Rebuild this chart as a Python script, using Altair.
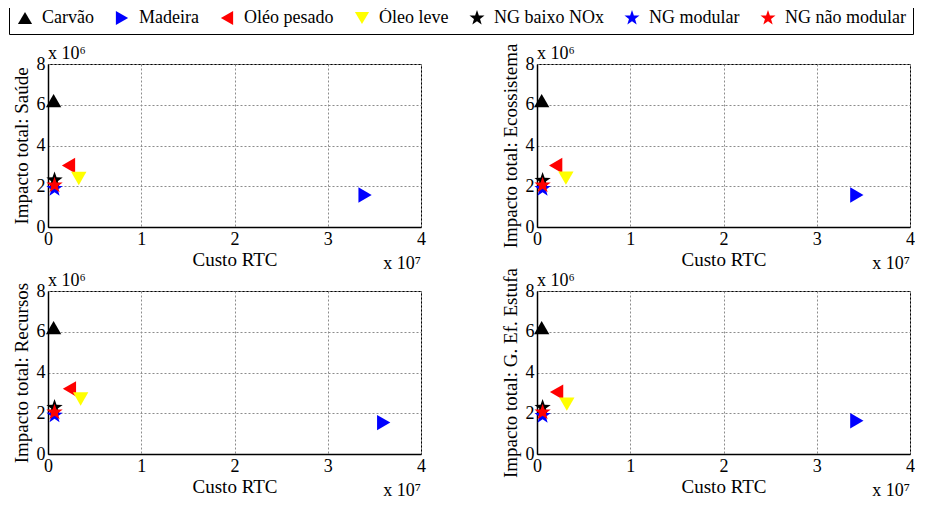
import math
import altair as alt
import pandas as pd

# ---------------- data (x in units of 1e7, y in units of 1e6) ----------------
series = ["Carvão", "Madeira", "Oléo pesado", "Óleo leve",
          "NG baixo NOx", "NG modular", "NG não modular"]
colors = ["#000000", "#0000ff", "#ff0000", "#ffff00",
          "#000000", "#0000ff", "#ff0000"]

saude_x = [0.06, 3.40, 0.22, 0.33, 0.07, 0.07, 0.07]
saude_y = [6.20, 1.57, 3.02, 2.38, 2.30, 1.88, 2.05]
eco_x = [0.05, 3.43, 0.20, 0.31, 0.06, 0.06, 0.06]
eco_y = [6.20, 1.57, 3.02, 2.40, 2.28, 1.88, 2.05]
rec_x = [0.06, 3.60, 0.23, 0.35, 0.07, 0.07, 0.07]
rec_y = [6.20, 1.54, 3.20, 2.70, 2.28, 1.90, 2.05]
gee_x = [0.05, 3.43, 0.21, 0.32, 0.06, 0.06, 0.06]
gee_y = [6.20, 1.63, 3.04, 2.45, 2.28, 1.88, 2.05]

panel_titles = ["Impacto total: Saúde", "Impacto total: Ecossistema",
                "Impacto total: Recursos", "Impacto total: G. Ef. Estufa"]
x_ticks = [0, 1, 2, 3, 4]
y_ticks = [0, 2, 4, 6, 8]
x_label = "Custo RTC"
x_exp = "x 10⁷"
y_exp = "x 10⁶"

# ---------------- styling ----------------
FONT = "Liberation Serif"
W, H = 373, 163

pts = []
for k in range(10):
    r = 1.12 if k % 2 == 0 else 0.45
    a = math.radians(-90 + 36 * k)
    pts.append(f"{r * math.cos(a):.3f},{r * math.sin(a):.3f}")
star = "M" + "L".join(pts) + "Z"
shapes = ["triangle-up", "triangle-right", "triangle-left", "triangle-down",
          star, star, star]

legend = alt.Legend(
    title=None, orient="none", legendX=-39, legendY=-62,
    direction="horizontal", columns=7,
    strokeColor="black", fillColor="white", padding=7,
    labelFont=FONT, labelFontSize=18, labelColor="black",
    symbolSize=200, symbolStrokeWidth=0, labelOffset=8, columnPadding=19,
)


def panel(xs, ys, ytitle):
    df = pd.DataFrame({"serie": series, "custo": xs, "impacto": ys,
                       "ordem": list(range(len(series)))})
    points = alt.Chart(df).mark_point(
        filled=True, opacity=1, size=235, strokeWidth=0
    ).encode(
        x=alt.X("custo:Q", scale=alt.Scale(domain=[0, 4], nice=False),
                axis=alt.Axis(values=x_ticks, title=x_label)),
        y=alt.Y("impacto:Q", scale=alt.Scale(domain=[0, 8], nice=False),
                axis=alt.Axis(values=y_ticks, title=ytitle)),
        color=alt.Color("serie:N", sort=series,
                        scale=alt.Scale(domain=series, range=colors), legend=legend),
        shape=alt.Shape("serie:N", sort=series,
                        scale=alt.Scale(domain=series, range=shapes), legend=legend),
        order=alt.Order("ordem:Q"),
    )
    xexp = alt.Chart(pd.DataFrame({"t": [x_exp]})).mark_text(
        align="right", baseline="alphabetic", font=FONT, fontSize=18, color="black"
    ).encode(text="t:N", x=alt.value(W), y=alt.value(H + 42))
    yexp = alt.Chart(pd.DataFrame({"t": [y_exp]})).mark_text(
        align="left", baseline="alphabetic", font=FONT, fontSize=18, color="black"
    ).encode(text="t:N", x=alt.value(0), y=alt.value(-5))
    return alt.layer(points, xexp, yexp).properties(width=W, height=H)


charts = [panel(saude_x, saude_y, panel_titles[0]),
          panel(eco_x, eco_y, panel_titles[1]),
          panel(rec_x, rec_y, panel_titles[2]),
          panel(gee_x, gee_y, panel_titles[3])]

chart = alt.concat(
    *charts, columns=2, spacing={"row": 64, "column": 116}, bounds="flush"
).resolve_scale(color="shared", shape="shared").properties(
    padding={"left": 0, "top": -7, "right": 0, "bottom": 0}
).configure_axis(
    labelFont=FONT, labelFontSize=18, labelColor="black",
    titleFont=FONT, titleFontSize=19, titleFontWeight="normal", titleColor="black",
    domainColor="black", domainWidth=1.5,
    gridColor="#8c8c8c", gridDash=[2, 2], gridWidth=1,
    ticks=False, labelFlush=False, labelPadding=3,
).configure_axisX(titlePadding=2).configure_axisY(titlePadding=5).configure_view(
    stroke="black", strokeWidth=1
)

chart.save("out.html", embed_options={"renderer": "svg", "actions": False})
